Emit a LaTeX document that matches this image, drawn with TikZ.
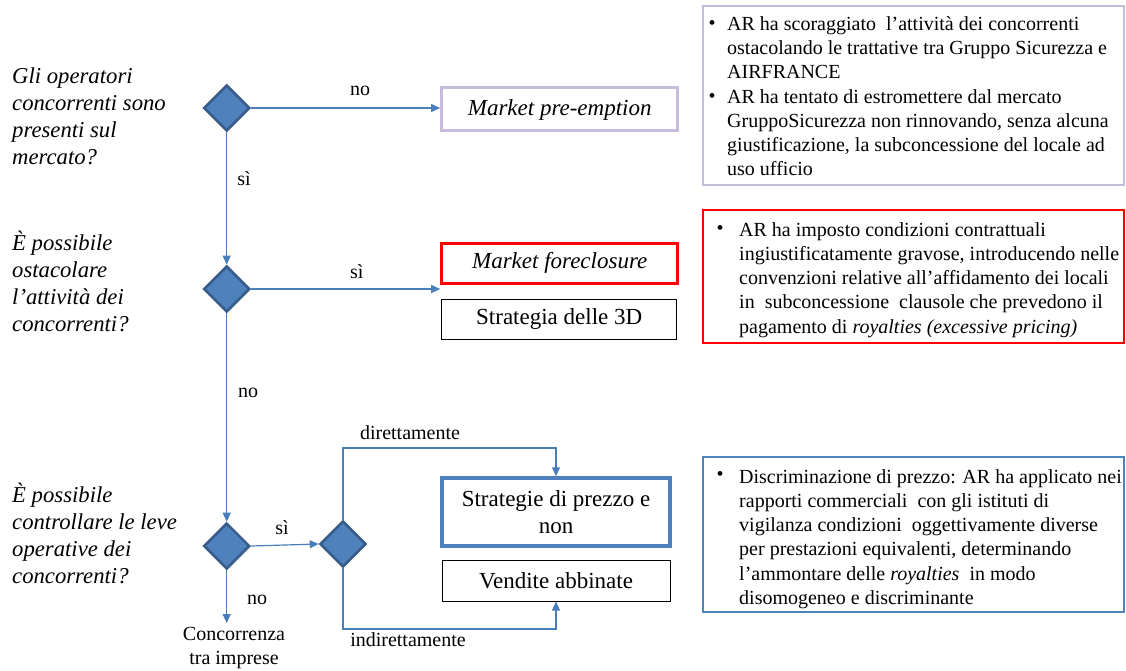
\documentclass[tikz,border=0pt]{standalone}
\usepackage{fontspec}
\setmainfont{Liberation Serif}
\usetikzlibrary{shapes.geometric,arrows.meta,calc}
\definecolor{dfill}{RGB}{79,129,189}
\definecolor{dline}{RGB}{56,93,138}
\definecolor{conn}{RGB}{74,126,187}
\definecolor{lav}{RGB}{200,188,220}
\definecolor{bluebox}{RGB}{79,129,189}
\begin{document}
\begin{tikzpicture}[x=1pt,y=-1pt,
 dec/.style={diamond,draw=dline,fill=dfill,line width=2.6pt,minimum width=46pt,minimum height=46pt,inner sep=0pt,aspect=1},
 cn/.style={draw=conn,line width=1.2pt},
 arr/.style={cn,-{Triangle[width=8pt,length=9pt]}},
 quest/.style={font=\fontsize{22.7}{27}\selectfont\itshape,align=left,anchor=north west,inner sep=0pt},
 lbl/.style={font=\fontsize{20}{24}\selectfont,inner sep=0pt,align=center},
 box/.style={minimum width=236pt,inner sep=0pt,align=center,font=\fontsize{23}{27}\selectfont},
 rtext/.style={font=\fontsize{20}{24.3}\selectfont,align=left,anchor=north west,inner sep=0pt},
 bul/.style={font=\fontsize{20}{24}\selectfont,inner sep=0pt},
]
\useasboundingbox (0,0) rectangle (1126,671);

% questions
\node[quest] (q1) at (12,68) {Gli operatori\\concorrenti sono\\presenti sul\\mercato?};
\node[quest] (q2) at (12,231) {È possibile\\ostacolare\\l’attività dei\\concorrenti?};
\node[quest] (q3) at (12,483) {È possibile\\controllare le leve\\operative dei\\concorrenti?};

% diamonds
\node[dec] (d1) at (226.7,108) {};
\node[dec] (d2) at (226.7,289) {};
\node[dec] (d3) at (226.7,546) {};
\node[dec] (d4) at (343,544) {};

% middle boxes
\node[box,draw=lav,line width=3pt,minimum height=43pt,font=\fontsize{23}{27}\selectfont\itshape] (pre) at (559.7,109.5) {Market pre-emption};
\node[box,draw=red,line width=3pt,minimum height=40pt,font=\fontsize{23}{27}\selectfont\itshape] (fore) at (559.7,263) {Market foreclosure};
\node[box,draw=black,line width=1pt,minimum height=40pt,minimum width=235pt] (s3d) at (559.2,319) {Strategia delle 3D};
\node[box,draw=bluebox,line width=3.5pt,minimum height=68pt,minimum width=228pt] (strat) at (556,512) {Strategie di prezzo e\\non};
\node[box,draw=black,line width=1pt,minimum height=41pt,minimum width=228pt] (vend) at (556,580.5) {Vendite abbinate};

% right boxes
\draw[draw=lav,line width=1.8pt] (703,6) rectangle (1124,185);
\node[bul] (b1a) at (712,25) {•};
\node[bul] (b1b) at (712,98) {•};
\node[rtext] (t1) at (727,16) {AR ha scoraggiato \ l’attività dei concorrenti\\ostacolando le trattative tra Gruppo Sicurezza e\\AIRFRANCE\\AR ha tentato di estromettere dal mercato\\GruppoSicurezza non rinnovando, senza alcuna\\giustificazione, la subconcessione del locale ad\\uso ufficio};

\draw[draw=red,line width=1.8pt] (703,210) rectangle (1124,343);
\node[bul] (b2) at (720,230) {•};
\node[rtext] (t2) at (739,222) {AR ha imposto condizioni contrattuali\\ingiustificatamente gravose, introducendo nelle\\convenzioni relative all’affidamento dei locali\\in \ subconcessione \ clausole che prevedono il\\pagamento di \textit{royalties (excessive pricing)}};

\draw[draw=bluebox,line width=1.8pt] (703,457) rectangle (1124,612);
\node[bul] (b3) at (720,476) {•};
\node[rtext] (t3) at (739,469) {Discriminazione di prezzo: AR ha applicato nei\\rapporti commerciali \ con gli istituti di\\vigilanza condizioni \ oggettivamente diverse\\per prestazioni equivalenti, determinando\\l’ammontare delle \textit{royalties} \ in modo\\disomogeneo e discriminante};

% bottom text
\node[lbl] (conc) at (234,648) {Concorrenza\\tra imprese};

% connectors
\draw[arr] (d1.east) -- (d1.east -| pre.west);
\draw[arr] (d1.south) -- (d2.north);
\draw[arr] (d2.east) -- (d2.east -| fore.west);
\draw[arr] (d2.south) -- (d3.north);
\draw[arr] (d3.east) -- (d4.west);
\draw[arr] (d3.south) -- ($(d3.south |- conc.north)+(0,-4)$);
\coordinate (topy) at (0,448);
\coordinate (boty) at (0,629);
\draw[arr] (d4.north) -- (d4.north |- topy) -| (strat.north);
\draw[arr] (d4.south) -- (d4.south |- boty) -| (vend.south);

% labels
\node[lbl] (l1) at (360,91) {no};
\node[lbl] (l2) at (244,179) {sì};
\node[lbl] (l3) at (356.7,271.7) {sì};
\node[lbl] (l4) at (248,393) {no};
\node[lbl] (l5) at (282,528) {sì};
\node[lbl] (l6) at (257,600) {no};
\node[lbl] (l7) at (410,433) {direttamente};
\node[lbl] (l8) at (408,640) {indirettamente};
\end{tikzpicture}
\end{document}
